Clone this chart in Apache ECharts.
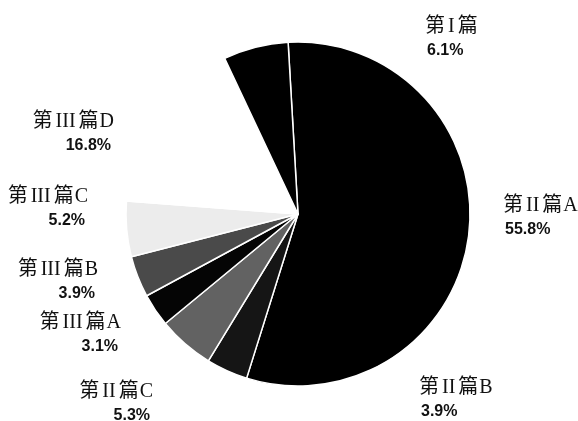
<!DOCTYPE html>
<html>
<head>
<meta charset="utf-8">
<script src="https://cdn.jsdelivr.net/npm/echarts@6/dist/echarts.min.js"></script>
<style>
  html, body { margin: 0; padding: 0; background: #fff; }
  #chart { width: 578px; height: 421px; }
</style>
</head>
<body>
<div id="chart"></div>
<script>
// Share of each part (%), listed clockwise starting just left of 12 o'clock
const partNames = ['第II篇A', '第II篇B', '第II篇C', '第III篇A', '第III篇B', '第III篇C', '第III篇D', '第I篇'];
const partShares = [55.8, 3.9, 5.3, 3.1, 3.9, 5.2, 16.8, 6.1];

// Slice fills (grayscale print look)
const sliceColors = ['#000000', '#151515', '#626262', '#050505', '#4a4a4a', '#ececec', '#ffffff', '#000000'];

// Label anchor per slice: [x, top y, side]
const labelAnchors = [
  [503, 193, 'left'],
  [419, 375, 'left'],
  [153, 379, 'right'],
  [121, 310, 'right'],
  [98, 257, 'right'],
  [88, 184, 'right'],
  [114, 109, 'right'],
  [425, 14, 'left']
];

const serif = '"Liberation Serif", "Noto Sans CJK SC", serif';
const sans = '"Liberation Sans", Arial, sans-serif';

// Rich text styles for one side ('l' or 'r')
function sideStyles(side) {
  const align = side === 'r' ? 'right' : 'left';
  const base = { fontFamily: serif, fontSize: 20, color: '#111', align: align, lineHeight: 25 };
  const out = {};
  out['c' + side] = Object.assign({}, base);
  out['m' + side] = Object.assign({}, base, { padding: [0, 3, 0, 3] });
  out['s' + side] = Object.assign({}, base, { padding: [0, 0, 0, 1] });
  out['p' + side] = {
    fontFamily: sans, fontSize: 16, fontWeight: 'bold', color: '#111', align: align,
    lineHeight: 24, padding: side === 'r' ? [0, 3, 0, 0] : [0, 0, 0, 2]
  };
  return out;
}

const chart = echarts.init(document.getElementById('chart'), null, { renderer: 'canvas' });

chart.setOption({
  backgroundColor: '#ffffff',
  animation: false,
  series: [{
    type: 'pie',
    center: [298, 214],
    radius: 172,
    startAngle: 93.3,
    clockwise: true,
    avoidLabelOverlap: false,
    itemStyle: { borderColor: '#ffffff', borderWidth: 1.5 },
    label: {
      show: true,
      formatter: function (p) {
        const s = labelAnchors[p.dataIndex][2] === 'right' ? 'r' : 'l';
        const m = p.name.match(/^(第)(I+)(篇)(.*)$/);
        let line1 = '{c' + s + '|' + m[1] + '}{m' + s + '|' + m[2] + '}{c' + s + '|' + m[3] + '}';
        if (m[4]) line1 += '{s' + s + '|' + m[4] + '}';
        return line1 + '\n{p' + s + '|' + p.value.toFixed(1) + '%}';
      },
      rich: Object.assign({}, sideStyles('l'), sideStyles('r'))
    },
    labelLine: { show: false },
    labelLayout: function (params) {
      const a = labelAnchors[params.dataIndex];
      return { x: a[0], y: a[1], align: a[2], verticalAlign: 'top' };
    },
    emphasis: { disabled: true },
    data: partNames.map(function (name, i) {
      return { name: name, value: partShares[i], itemStyle: { color: sliceColors[i] } };
    })
  }]
});
</script>
</body>
</html>
